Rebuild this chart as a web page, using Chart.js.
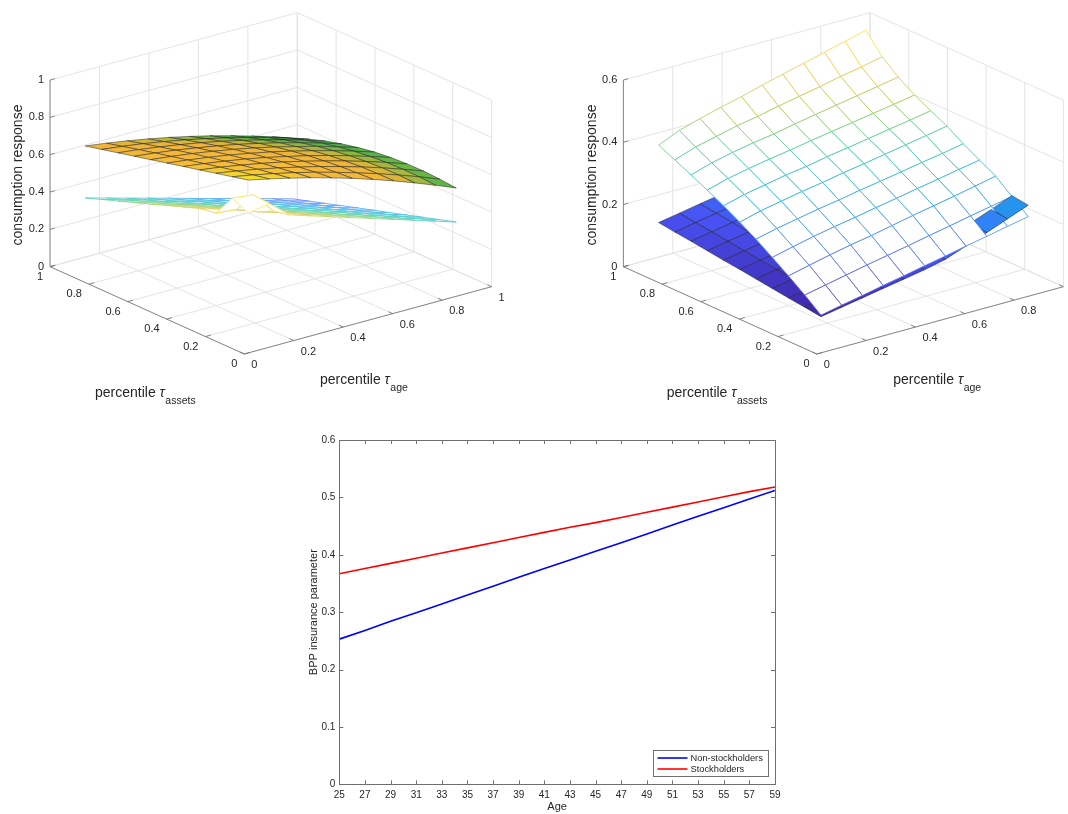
<!DOCTYPE html>
<html>
<head>
<meta charset="utf-8">
<script src="https://cdn.jsdelivr.net/npm/chart.js@4.4.0/dist/chart.umd.min.js"></script>
<style>
  html, body { margin: 0; padding: 0; background: #fff; width: 1068px; height: 814px; overflow: hidden; }
  #top { position: absolute; left: 0; top: 0; }
  #bottom { position: absolute; left: 290px; top: 430px; }
</style>
</head>
<body>
<canvas id="top" width="1068" height="420"></canvas>
<canvas id="bottom" width="510" height="384"></canvas>
<script>
// ==================== data ====================
// percentile grid nodes (same for tau_assets rows and tau_age columns)
const TAU_NODES = [0.08, 0.164, 0.248, 0.332, 0.416, 0.5, 0.584, 0.668, 0.752, 0.836, 0.92];
const AXIS_TICKS = [0, 0.2, 0.4, 0.6, 0.8, 1];
const Z_TICKS_LEFT = [0, 0.2, 0.4, 0.6, 0.8, 1];
const Z_TICKS_RIGHT = [0, 0.2, 0.4, 0.6];

// left panel: rows = tau_assets node, columns = tau_age node
const LEFT_UPPER = [
  [0.865, 0.841, 0.815, 0.787, 0.756, 0.723, 0.687, 0.649, 0.608, 0.565, 0.520],
  [0.844, 0.823, 0.800, 0.775, 0.747, 0.716, 0.683, 0.648, 0.611, 0.571, 0.528],
  [0.823, 0.805, 0.784, 0.761, 0.735, 0.708, 0.677, 0.645, 0.610, 0.572, 0.532],
  [0.802, 0.786, 0.767, 0.746, 0.723, 0.697, 0.668, 0.638, 0.605, 0.569, 0.531],
  [0.781, 0.766, 0.749, 0.730, 0.708, 0.683, 0.657, 0.628, 0.596, 0.562, 0.526],
  [0.760, 0.746, 0.730, 0.712, 0.691, 0.668, 0.642, 0.614, 0.584, 0.551, 0.516],
  [0.739, 0.726, 0.711, 0.693, 0.673, 0.650, 0.625, 0.597, 0.568, 0.535, 0.501],
  [0.718, 0.705, 0.690, 0.672, 0.652, 0.630, 0.605, 0.578, 0.548, 0.516, 0.481],
  [0.697, 0.684, 0.668, 0.650, 0.630, 0.607, 0.582, 0.554, 0.524, 0.492, 0.457],
  [0.676, 0.662, 0.646, 0.627, 0.606, 0.582, 0.556, 0.528, 0.497, 0.464, 0.428],
  [0.655, 0.640, 0.622, 0.602, 0.580, 0.555, 0.528, 0.498, 0.466, 0.432, 0.395]
];
const LEFT_LOWER = [
  [0.688, 0.710, 0.618, 0.583, 0.548, 0.513, 0.478, 0.443, 0.408, 0.373, 0.338],
  [0.730, 0.716, 0.600, 0.553, 0.519, 0.484, 0.450, 0.415, 0.380, 0.346, 0.311],
  [0.610, 0.600, 0.557, 0.523, 0.489, 0.455, 0.421, 0.387, 0.352, 0.318, 0.284],
  [0.595, 0.561, 0.527, 0.494, 0.460, 0.426, 0.392, 0.359, 0.325, 0.291, 0.257],
  [0.564, 0.530, 0.497, 0.464, 0.430, 0.397, 0.364, 0.330, 0.297, 0.264, 0.230],
  [0.533, 0.500, 0.467, 0.434, 0.401, 0.368, 0.335, 0.302, 0.269, 0.236, 0.204],
  [0.501, 0.469, 0.436, 0.404, 0.371, 0.339, 0.306, 0.274, 0.242, 0.209, 0.177],
  [0.470, 0.438, 0.406, 0.374, 0.342, 0.310, 0.278, 0.246, 0.214, 0.182, 0.150],
  [0.439, 0.408, 0.376, 0.344, 0.313, 0.281, 0.249, 0.218, 0.186, 0.154, 0.123],
  [0.408, 0.377, 0.346, 0.314, 0.283, 0.252, 0.221, 0.190, 0.158, 0.127, 0.096],
  [0.377, 0.346, 0.315, 0.285, 0.254, 0.223, 0.192, 0.162, 0.131, 0.100, 0.069]
];

// right panel
const RIGHT_MESH = [
  [0.085, 0.099, 0.112, 0.126, 0.139, 0.153, 0.166, 0.180, 0.193, 0.207, 0.220],
  [0.126, 0.140, 0.154, 0.168, 0.181, 0.194, 0.208, 0.221, 0.235, 0.248, 0.261],
  [0.164, 0.180, 0.195, 0.209, 0.221, 0.235, 0.249, 0.262, 0.275, 0.289, 0.303],
  [0.200, 0.216, 0.231, 0.244, 0.256, 0.269, 0.281, 0.294, 0.306, 0.319, 0.331],
  [0.235, 0.251, 0.264, 0.277, 0.288, 0.301, 0.312, 0.324, 0.336, 0.347, 0.360],
  [0.266, 0.284, 0.297, 0.310, 0.321, 0.334, 0.345, 0.357, 0.369, 0.381, 0.393],
  [0.295, 0.313, 0.326, 0.339, 0.349, 0.362, 0.373, 0.384, 0.396, 0.407, 0.419],
  [0.322, 0.341, 0.355, 0.367, 0.378, 0.390, 0.401, 0.412, 0.423, 0.434, 0.446],
  [0.347, 0.368, 0.383, 0.396, 0.406, 0.420, 0.432, 0.444, 0.456, 0.468, 0.480],
  [0.372, 0.395, 0.411, 0.427, 0.439, 0.454, 0.467, 0.480, 0.495, 0.507, 0.522],
  [0.396, 0.425, 0.445, 0.463, 0.479, 0.498, 0.515, 0.532, 0.549, 0.566, 0.584]
];
const RIGHT_BLUE = [
  [0.080, 0.092, 0.104, 0.116, 0.128, 0.140, 0.155, 0.180, 0.205, 0.231, 0.257],
  [0.087, 0.099, 0.111, 0.123, 0.135, 0.147, 0.162, 0.187, 0.212, 0.238, 0.264],
  [0.093, 0.105, 0.117, 0.129, 0.141, 0.153, 0.168, 0.193, 0.218, 0.244, 0.270],
  [0.100, 0.112, 0.124, 0.136, 0.148, 0.160, 0.175, 0.200, 0.225, 0.251, 0.277],
  [0.107, 0.119, 0.131, 0.143, 0.155, 0.167, 0.182, 0.207, 0.232, 0.258, 0.284],
  [0.114, 0.126, 0.138, 0.150, 0.162, 0.174, 0.189, 0.214, 0.239, 0.265, 0.291],
  [0.120, 0.132, 0.144, 0.156, 0.168, 0.180, 0.195, 0.220, 0.245, 0.271, 0.297],
  [0.127, 0.139, 0.151, 0.163, 0.175, 0.187, 0.202, 0.227, 0.252, 0.278, 0.304],
  [0.134, 0.146, 0.158, 0.170, 0.182, 0.194, 0.209, 0.234, 0.259, 0.285, 0.311],
  [0.140, 0.152, 0.164, 0.176, 0.188, 0.200, 0.215, 0.240, 0.265, 0.291, 0.317],
  [0.147, 0.159, 0.171, 0.183, 0.195, 0.207, 0.222, 0.247, 0.272, 0.298, 0.324]
];

// bottom panel
const AGES = [25, 27, 29, 31, 33, 35, 37, 39, 41, 43, 45, 47, 49, 51, 53, 55, 57, 59];
const NON_STOCK = [0.253, 0.268, 0.284, 0.299, 0.314, 0.330, 0.345, 0.361, 0.376, 0.391, 0.406, 0.421, 0.436, 0.452, 0.467, 0.482, 0.497, 0.512];
const STOCK = [0.367, 0.376, 0.385, 0.394, 0.403, 0.412, 0.421, 0.430, 0.439, 0.448, 0.456, 0.465, 0.474, 0.483, 0.492, 0.501, 0.510, 0.518];
const Y_TICKS = [0, 0.1, 0.2, 0.3, 0.4, 0.5, 0.6];

// ==================== style ====================
const FONT = '"Liberation Sans", Arial, Helvetica, sans-serif';
const TEXT_COLOR = '#262626';
const GRID_COLOR = '#e1e1e1';
const AXIS_COLOR = '#6f6f6f';
Chart.defaults.font.family = FONT;

// colormaps as [position, [r,g,b]] stops
const PARULA = [
  [0, [62, 38, 168]], [1 / 7, [72, 82, 244]], [2 / 7, [46, 135, 247]], [3 / 7, [18, 177, 214]],
  [4 / 7, [55, 200, 151]], [5 / 7, [171, 199, 57]], [6 / 7, [254, 195, 56]], [1, [249, 251, 21]]
];
const WARM = [
  [0, [46, 156, 80]], [0.3, [88, 180, 72]], [0.45, [196, 184, 60]], [0.55, [240, 180, 58]],
  [0.8, [246, 188, 55]], [0.9, [246, 208, 46]], [1, [240, 228, 36]]
];
function colorAt(map, z, clim, fade) {
  let t = (z - clim[0]) / (clim[1] - clim[0]);
  t = Math.max(0, Math.min(1, t));
  let k = 0;
  while (k < map.length - 2 && t > map[k + 1][0]) k++;
  const f = (t - map[k][0]) / (map[k + 1][0] - map[k][0]);
  const c = map[k][1].map((v, n) => {
    const m = v + (map[k + 1][1][n] - v) * f;
    return Math.round(m + (255 - m) * (fade || 0));
  });
  return `rgb(${c[0]},${c[1]},${c[2]})`;
}

// projection of each 3D panel (page pixels): origin, unit step along tau_assets, tau_age, z
const PANEL_LEFT = { o: [244.3, 354], a: [-194.3, -87.3], g: [247.3, -67.3], zs: 186.7, zTicks: Z_TICKS_LEFT,
  zTitle: [18, 175], aTitle: [95, 393], gTitle: [320, 380] };
const PANEL_RIGHT = { o: [816.7, 354], a: [-193.3, -87.3], g: [246.7, -67.3], zs: 311.1, zTicks: Z_TICKS_RIGHT,
  zTitle: [591.7, 175], aTitle: [666.7, 393], gTitle: [893.3, 380] };

// nearness to the viewer: front corner (0,0) and larger z are closer
[PANEL_LEFT, PANEL_RIGHT].forEach(p => {
  const rx = [p.a[0], p.g[0], 0], ry = [p.a[1], p.g[1], -p.zs];
  p.view = [rx[1] * ry[2] - rx[2] * ry[1], rx[2] * ry[0] - rx[0] * ry[2], rx[0] * ry[1] - rx[1] * ry[0]];
});

function proj(p, a, g, z) {
  return { x: p.o[0] + p.a[0] * a + p.g[0] * g, y: p.o[1] + p.a[1] * a + p.g[1] * g - p.zs * z };
}
function nearness(p, a, g, z) {
  return p.view[0] * a + p.view[1] * g + p.view[2] * z;
}

// ==================== 3D datasets ====================
const boxSets = [];
function seg3d(p, from, to, color, width, order) {
  boxSets.push({
    data: [proj(p, ...from), proj(p, ...to)],
    borderColor: color, borderWidth: width, pointRadius: 0, fill: false, order: order
  });
}

function buildBox(p) {
  const zmax = p.zTicks[p.zTicks.length - 1];
  AXIS_TICKS.forEach(t => {
    seg3d(p, [t, 0, 0], [t, 1, 0], GRID_COLOR, 0.9, 3e9);
    seg3d(p, [0, t, 0], [1, t, 0], GRID_COLOR, 0.9, 3e9);
    seg3d(p, [1, t, 0], [1, t, zmax], GRID_COLOR, 0.9, 3e9);
    seg3d(p, [t, 1, 0], [t, 1, zmax], GRID_COLOR, 0.9, 3e9);
  });
  p.zTicks.forEach(z => {
    seg3d(p, [1, 0, z], [1, 1, z], GRID_COLOR, 0.9, 3e9);
    seg3d(p, [0, 1, z], [1, 1, z], GRID_COLOR, 0.9, 3e9);
  });
  seg3d(p, [0, 0, 0], [1, 0, 0], AXIS_COLOR, 0.8, 2e9);
  seg3d(p, [0, 0, 0], [0, 1, 0], AXIS_COLOR, 0.8, 2e9);
  seg3d(p, [1, 0, 0], [1, 0, zmax], AXIS_COLOR, 0.8, 2e9);
  AXIS_TICKS.forEach(t => {
    seg3d(p, [t, 0, 0], [t, 0.022, 0], AXIS_COLOR, 0.8, 2e9);
    seg3d(p, [0, t, 0], [0.022, t, 0], AXIS_COLOR, 0.8, 2e9);
  });
  p.zTicks.forEach(z => seg3d(p, [1, 0, z], [1, 0.02, z], AXIS_COLOR, 0.8, 2e9));
}

// one closed, filled dataset per grid cell; far cells get a higher order so they are drawn first
const faceSets = [];
function buildSurface(p, Z, style) {
  const n = TAU_NODES.length;
  for (let i = 0; i < n - 1; i++) {
    for (let j = 0; j < n - 1; j++) {
      const corners = [[i, j], [i + 1, j], [i + 1, j + 1], [i, j + 1], [i, j]];
      const zs = corners.map(([r, c]) => Z[r][c]);
      const pts = corners.map(([r, c]) => proj(p, TAU_NODES[r], TAU_NODES[c], Z[r][c]));
      const zMid = (zs[0] + zs[1] + zs[2] + zs[3]) / 4;
      const near = nearness(p, (TAU_NODES[i] + TAU_NODES[i + 1]) / 2, (TAU_NODES[j] + TAU_NODES[j + 1]) / 2, zMid);
      const ds = { data: pts, fill: 'shape', pointRadius: 0, borderJoinStyle: 'round', order: -near };
      if (style.mesh) {
        ds.backgroundColor = '#ffffff';
        ds.borderColor = colorAt(style.map, zMid, style.clim, style.fade);
        ds.borderWidth = 0.9;
      } else {
        ds.backgroundColor = colorAt(style.map, zMid, style.clim, 0);
        ds.borderColor = 'rgba(25,25,25,0.8)';
        ds.borderWidth = 0.6;
      }
      faceSets.push(ds);
    }
  }
}

buildBox(PANEL_LEFT);
buildBox(PANEL_RIGHT);
buildSurface(PANEL_LEFT, LEFT_UPPER, { mesh: false, map: WARM, clim: [0.40, 0.865] });
buildSurface(PANEL_LEFT, LEFT_LOWER, { mesh: true, map: PARULA, clim: [-0.05, 0.75], fade: 0.25 });
buildSurface(PANEL_RIGHT, RIGHT_MESH, { mesh: true, map: PARULA, clim: [0.085, 0.584], fade: 0.18 });
buildSurface(PANEL_RIGHT, RIGHT_BLUE, { mesh: false, map: PARULA, clim: [0.085, 0.584] });

// tick labels and axis titles of the 3D panels
const labels3d = {
  id: 'labels3d',
  afterDraw(chart) {
    const { ctx } = chart;
    const sx = chart.scales.x, sy = chart.scales.y;
    const put = (text, x, y) => ctx.fillText(text, sx.getPixelForValue(x), sy.getPixelForValue(y));
    ctx.save();
    ctx.fillStyle = TEXT_COLOR;
    ctx.textBaseline = 'middle';
    [PANEL_LEFT, PANEL_RIGHT].forEach(p => {
      ctx.font = '11px ' + FONT;
      ctx.textAlign = 'right';
      p.zTicks.forEach(z => { const q = proj(p, 1, 0, z); put(String(z), q.x - 6, q.y); });
      AXIS_TICKS.forEach(t => { const q = proj(p, t, 0, 0); put(String(t), q.x - 7, q.y + 10); });
      ctx.textAlign = 'left';
      AXIS_TICKS.forEach(t => { const q = proj(p, 0, t, 0); put(String(t), q.x + 7, q.y + 11); });

      // z title (rotated)
      ctx.save();
      ctx.translate(sx.getPixelForValue(p.zTitle[0]), sy.getPixelForValue(p.zTitle[1]));
      ctx.rotate(-Math.PI / 2);
      ctx.textAlign = 'center';
      ctx.font = '14px ' + FONT;
      ctx.fillText('consumption response', 0, 0);
      ctx.restore();

      [[p.aTitle, 'assets'], [p.gTitle, 'age']].forEach(([pos, sub]) => {
        const x0 = sx.getPixelForValue(pos[0]), y0 = sy.getPixelForValue(pos[1]);
        ctx.textAlign = 'left';
        ctx.font = '14px ' + FONT;
        ctx.fillText('percentile ', x0, y0);
        let w = ctx.measureText('percentile ').width;
        ctx.font = 'italic 14px ' + FONT;
        ctx.fillText('τ', x0 + w, y0);
        w += ctx.measureText('τ').width;
        ctx.font = '10.5px ' + FONT;
        ctx.fillText(sub, x0 + w + 0.5, y0 + 8);
      });
    });
    ctx.restore();
  }
};

new Chart(document.getElementById('top'), {
  type: 'line',
  data: { datasets: boxSets.concat(faceSets) },
  options: {
    responsive: false, animation: false, events: [],
    layout: { padding: 0 },
    plugins: { legend: { display: false }, tooltip: { enabled: false } },
    scales: {
      x: { type: 'linear', display: false, min: 0, max: 1068 },
      y: { type: 'linear', display: false, min: 0, max: 420, reverse: true }
    }
  },
  plugins: [labels3d]
});

// ==================== bottom line chart ====================
const axesFrame = {
  id: 'axesFrame',
  afterDraw(chart) {
    const { ctx, chartArea: c, scales: { x, y } } = chart;
    ctx.save();
    ctx.strokeStyle = AXIS_COLOR;
    ctx.lineWidth = 1;
    ctx.strokeRect(Math.round(c.left) + 0.5, Math.round(c.top) + 0.5, Math.round(c.width), Math.round(c.height));
    ctx.beginPath();
    AGES.forEach(v => {
      const px = Math.round(x.getPixelForValue(v)) + 0.5;
      ctx.moveTo(px, c.bottom); ctx.lineTo(px, c.bottom - 4);
      ctx.moveTo(px, c.top); ctx.lineTo(px, c.top + 4);
    });
    Y_TICKS.forEach(v => {
      const py = Math.round(y.getPixelForValue(v)) + 0.5;
      ctx.moveTo(c.left, py); ctx.lineTo(c.left + 4, py);
      ctx.moveTo(c.right, py); ctx.lineTo(c.right - 4, py);
    });
    ctx.stroke();

    // legend box (lower right, inside axes)
    const lx = 363.5, ly = 320.5, lw = 115, lh = 26;
    ctx.fillStyle = '#ffffff';
    ctx.fillRect(lx, ly, lw, lh);
    ctx.strokeRect(lx, ly, lw, lh);
    chart.data.datasets.forEach((ds, k) => {
      const yy = ly + 7.5 + k * 11;
      ctx.strokeStyle = ds.borderColor;
      ctx.lineWidth = 1.6;
      ctx.beginPath(); ctx.moveTo(lx + 4, yy); ctx.lineTo(lx + 34, yy); ctx.stroke();
      ctx.fillStyle = TEXT_COLOR;
      ctx.font = '9.3px ' + FONT;
      ctx.textBaseline = 'middle';
      ctx.textAlign = 'left';
      ctx.fillText(ds.label, lx + 37, yy);
    });
    ctx.restore();
  }
};

new Chart(document.getElementById('bottom'), {
  type: 'line',
  data: {
    datasets: [
      { label: 'Non-stockholders', data: AGES.map((a, k) => ({ x: a, y: NON_STOCK[k] })), borderColor: '#0000ff', borderWidth: 1.6, pointRadius: 0, fill: false },
      { label: 'Stockholders', data: AGES.map((a, k) => ({ x: a, y: STOCK[k] })), borderColor: '#ff0000', borderWidth: 1.6, pointRadius: 0, fill: false }
    ]
  },
  options: {
    responsive: false, animation: false, events: [],
    layout: { padding: { top: 10, right: 25, left: 0, bottom: 0 } },
    plugins: { legend: { display: false }, tooltip: { enabled: false } },
    scales: {
      x: {
        type: 'linear', min: 25, max: 59,
        afterBuildTicks: s => { s.ticks = AGES.map(v => ({ value: v })); },
        afterFit: s => { s.height = 29.7; },
        grid: { display: false, drawTicks: false }, border: { display: false },
        ticks: { color: TEXT_COLOR, font: { size: 10 }, padding: 5, maxRotation: 0, autoSkip: false },
        title: { display: true, text: 'Age', color: TEXT_COLOR, font: { size: 11 }, padding: { top: 0, bottom: 0 } }
      },
      y: {
        type: 'linear', min: 0, max: 0.6,
        afterBuildTicks: s => { s.ticks = Y_TICKS.map(v => ({ value: v })); },
        afterFit: s => { s.width = 49.3; },
        grid: { display: false, drawTicks: false }, border: { display: false },
        ticks: { color: TEXT_COLOR, font: { size: 10 }, padding: 4 },
        title: { display: true, text: 'BPP insurance parameter', color: TEXT_COLOR, font: { size: 11 }, padding: { top: 17, bottom: 0 } }
      }
    }
  },
  plugins: [axesFrame]
});
</script>
</body>
</html>
